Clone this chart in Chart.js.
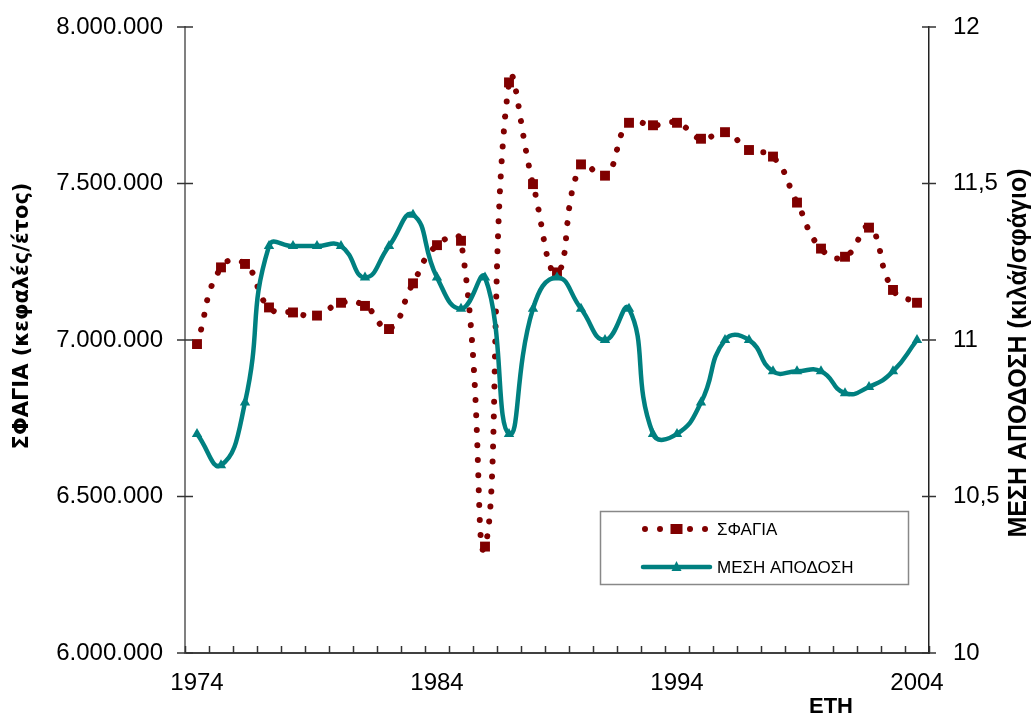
<!DOCTYPE html>
<html>
<head>
<meta charset="utf-8">
<script src="https://cdn.jsdelivr.net/npm/chart.js@4.4.1/dist/chart.umd.min.js"></script>
<style>
  html, body { margin: 0; padding: 0; background: #ffffff; }
  #wrap { width: 1032px; height: 720px; position: relative; }
</style>
</head>
<body>
<div id="wrap"><canvas id="c" width="1032" height="720"></canvas></div>
<script>
// Years on the horizontal axis
const years = ['1974','1975','1976','1977','1978','1979','1980','1981','1982','1983',
               '1984','1985','1986','1987','1988','1989','1990','1991','1992','1993',
               '1994','1995','1996','1997','1998','1999','2000','2001','2002','2003','2004'];

// Slaughtered animals per year (heads/year), left axis
const slaughter = [6987000, 7232000, 7243000, 7104000, 7088000, 7078000, 7119000, 7109000, 7035000, 7181000,
                   7303000, 7317000, 6340000, 7823000, 7498000, 7216000, 7561000, 7525000, 7694000, 7686000,
                   7694000, 7643000, 7664000, 7607000, 7586000, 7439000, 7292000, 7266000, 7359000, 7160000,
                   7119000];

// Average carcass yield (kg per carcass), right axis
const avgYield = [10.70, 10.60, 10.80, 11.30, 11.30, 11.30, 11.30, 11.20, 11.30, 11.40,
                  11.20, 11.10, 11.20, 10.70, 11.10, 11.20, 11.10, 11.00, 11.10, 10.70,
                  10.70, 10.80, 11.00, 11.00, 10.90, 10.90, 10.90, 10.83, 10.85, 10.90,
                  11.00];

// Tick labels
const xTickLabels = ['1974', '1984', '1994', '2004'];
const leftTickValues = [6000000, 6500000, 7000000, 7500000, 8000000];
const leftTickLabels = ['6.000.000', '6.500.000', '7.000.000', '7.500.000', '8.000.000'];
const rightTickValues = [10, 10.5, 11, 11.5, 12];
const rightTickLabels = ['10', '10,5', '11', '11,5', '12'];

const seriesNames = ['ΣΦΑΓΙΑ', 'ΜΕΣΗ ΑΠΟΔΟΣΗ'];
const titleLeft = 'ΣΦΑΓΙΑ (κεφαλές/έτος)';
const titleRight = 'ΜΕΣΗ ΑΠΟΔΟΣΗ (κιλά/σφάγιο)';
const titleX = 'ΕΤΗ';

const RED = '#800000';
const TEAL = '#008080';
const tickFont = { family: '"Liberation Sans", Arial, sans-serif', size: 24 };

// Short tick marks crossing the value axes, and inward marks on the year axis
const axisTicks = {
  id: 'axisTicks',
  afterDraw(chart) {
    const { ctx } = chart;
    const { x, yL, yR } = chart.scales;
    ctx.save();
    ctx.lineWidth = 1.5;
    ctx.strokeStyle = '#333333';
    const seg = (x1, y1, x2, y2) => { ctx.beginPath(); ctx.moveTo(x1, y1); ctx.lineTo(x2, y2); ctx.stroke(); };
    leftTickValues.forEach(v => { const p = yL.getPixelForValue(v); seg(yL.right - 8, p, yL.right + 8, p); });
    rightTickValues.forEach(v => { const p = yR.getPixelForValue(v); seg(yR.left - 7, p, yR.left + 7, p); });
    const n = years.length;
    const step = x.getPixelForValue(1) - x.getPixelForValue(0);
    for (let i = 0; i <= n; i++) {
      const px = Math.round((i < n ? x.getPixelForValue(i) : x.getPixelForValue(n - 1) + step) - step / 2) + 0.5;
      seg(px, x.top, px, x.top - 7);
    }
    ctx.restore();
  }
};

// Axis titles and the boxed legend
const decorations = {
  id: 'decorations',
  afterDraw(chart) {
    const { ctx } = chart;
    ctx.save();
    ctx.fillStyle = '#000000';
    ctx.textAlign = 'center';
    ctx.textBaseline = 'middle';

    ctx.save();
    ctx.translate(23, 316);
    ctx.rotate(-Math.PI / 2);
    ctx.font = 'bold 21px "DejaVu Sans", sans-serif';
    ctx.fillText(titleLeft, 0, 0);
    ctx.restore();

    ctx.save();
    ctx.translate(1019, 353);
    ctx.rotate(-Math.PI / 2);
    ctx.font = 'bold 25px "Liberation Sans", Arial, sans-serif';
    ctx.fillText(titleRight, 0, 0);
    ctx.restore();

    ctx.font = 'bold 22px "Liberation Sans", Arial, sans-serif';
    ctx.fillText(titleX, 831, 707);

    // legend box
    const bx = 600, by = 511, bw = 308, bh = 73;
    ctx.fillStyle = '#ffffff';
    ctx.fillRect(bx, by, bw, bh);
    ctx.lineWidth = 1.5;
    ctx.strokeStyle = '#888888';
    ctx.strokeRect(bx + 0.5, by + 0.5, bw, bh);

    const ds = chart.data.datasets;
    const sx1 = 643, sx2 = 710, mid = (sx1 + sx2) / 2;
    const rows = [529, 567];

    // dotted sample with square marker
    ctx.save();
    ctx.strokeStyle = ds[0].borderColor;
    ctx.lineWidth = ds[0].borderWidth;
    ctx.lineCap = 'round';
    ctx.setLineDash(ds[0].borderDash);
    ctx.beginPath(); ctx.moveTo(sx1 + 2, rows[0]); ctx.lineTo(sx2, rows[0]); ctx.stroke();
    ctx.restore();
    ctx.fillStyle = ds[0].backgroundColor;
    ctx.fillRect(mid - 6, rows[0] - 5, 12, 10);

    // solid sample with triangle marker
    ctx.save();
    ctx.strokeStyle = ds[1].borderColor;
    ctx.lineWidth = ds[1].borderWidth;
    ctx.lineCap = 'round';
    ctx.beginPath(); ctx.moveTo(sx1, rows[1]); ctx.lineTo(sx2, rows[1]); ctx.stroke();
    ctx.restore();
    ctx.fillStyle = ds[1].backgroundColor;
    ctx.beginPath(); ctx.moveTo(mid, rows[1] - 6); ctx.lineTo(mid + 5, rows[1] + 4); ctx.lineTo(mid - 5, rows[1] + 4); ctx.closePath(); ctx.fill();

    ctx.fillStyle = '#000000';
    ctx.textAlign = 'left';
    ctx.font = '17px "Liberation Sans", Arial, sans-serif';
    ctx.fillText(seriesNames[0], 717, rows[0] + 1);
    ctx.fillText(seriesNames[1], 717, rows[1] + 1);
    ctx.restore();
  }
};

// Fixed axis band sizes, without the extra label padding Chart.js adds at the ends
const fixWidth = w => s => { s.width = w; s.paddingTop = 0; s.paddingBottom = 0; };

new Chart(document.getElementById('c'), {
  type: 'line',
  data: {
    labels: years,
    datasets: [
      {
        label: seriesNames[0],
        data: slaughter,
        yAxisID: 'yL',
        borderColor: RED,
        backgroundColor: RED,
        borderWidth: 6,
        borderDash: [0.001, 15],
        borderCapStyle: 'round',
        tension: 0.5,
        pointStyle: 'rect',
        pointRadius: 7,
        pointBorderWidth: 0,
        fill: false,
        order: 2
      },
      {
        label: seriesNames[1],
        data: avgYield,
        yAxisID: 'yR',
        borderColor: TEAL,
        backgroundColor: TEAL,
        borderWidth: 4.5,
        tension: 0.5,
        pointStyle: 'triangle',
        pointRadius: 6,
        pointBorderWidth: 0,
        fill: false,
        order: 1
      }
    ]
  },
  options: {
    responsive: false,
    animation: false,
    events: [],
    layout: { padding: { top: 27, left: 0, right: 0, bottom: 0 } },
    plugins: { legend: { display: false }, tooltip: { enabled: false } },
    scales: {
      x: {
        type: 'category',
        offset: true,
        grid: { display: false, drawTicks: false },
        border: { display: true, color: '#404040', width: 2 },
        ticks: {
          autoSkip: false, maxRotation: 0, minRotation: 0, padding: 16, color: '#000000', font: tickFont,
          callback: (v, i) => xTickLabels.includes(years[i]) ? years[i] : ''
        },
        afterFit: s => { s.height = 67; s.paddingLeft = 0; s.paddingRight = 0; }
      },
      yL: {
        position: 'left',
        min: 6000000, max: 8000000,
        grid: { display: false, drawTicks: false },
        border: { display: true, color: '#808080', width: 2 },
        afterBuildTicks: s => { s.ticks = leftTickValues.map(v => ({ value: v })); },
        ticks: {
          padding: 22, color: '#000000', font: tickFont,
          callback: v => leftTickLabels[leftTickValues.indexOf(v)]
        },
        afterFit: fixWidth(185)
      },
      yR: {
        position: 'right',
        min: 10, max: 12,
        grid: { display: false, drawTicks: false },
        border: { display: true, color: '#222222', width: 1.5 },
        afterBuildTicks: s => { s.ticks = rightTickValues.map(v => ({ value: v })); },
        ticks: {
          padding: 24, color: '#000000', font: tickFont,
          callback: v => rightTickLabels[rightTickValues.indexOf(v)]
        },
        afterFit: fixWidth(103)
      }
    }
  },
  plugins: [axisTicks, decorations]
});
</script>
</body>
</html>
